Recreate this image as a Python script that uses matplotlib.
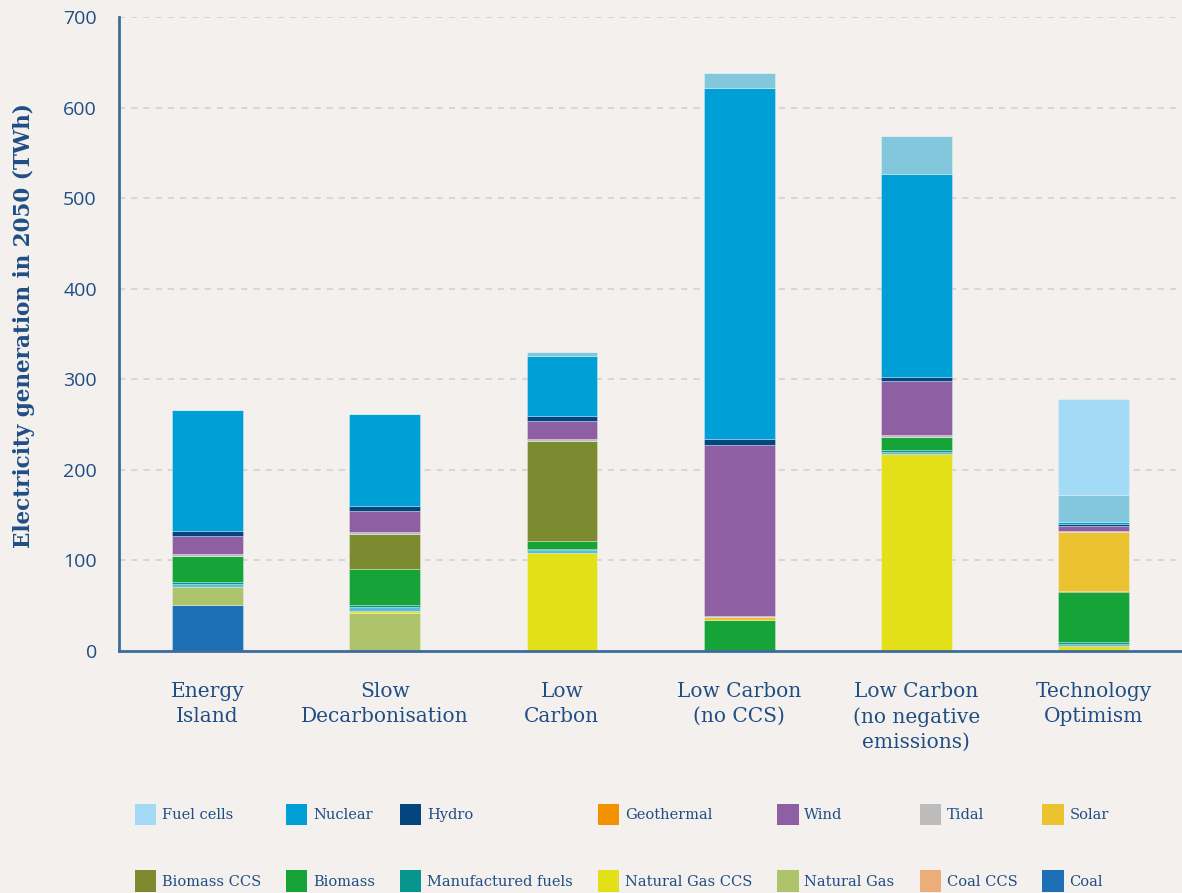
import numpy as np
import matplotlib
matplotlib.use("Agg")
import matplotlib.pyplot as plt

scenarios = ["Energy\nIsland", "Slow\nDecarbonisation", "Low\nCarbon",
             "Low Carbon\n(no CCS)", "Low Carbon\n(no negative\nemissions)",
             "Technology\nOptimism"]

# stacked from the bottom up, TWh in 2050
coal = [51, 0, 0, 0, 0, 0]
coal_ccs = [0, 0, 0, 0, 0, 0]
natural_gas = [20, 42, 0, 0, 0, 0]
natural_gas_ccs = [0, 2, 108.5, 0, 218, 6]
unlabelled_low = [3, 5, 3, 0, 2, 2]
manufactured_fuels = [2, 1.4, 1.1, 0, 2, 2]
biomass = [29, 39.6, 9.2, 34, 14.6, 55]
biomass_ccs = [0, 39, 110.2, 0, 0, 1.6]
solar = [0, 0, 0, 3, 0, 64.4]
tidal = [2.5, 2, 2, 2, 2.4, 2]
wind = [19, 23.6, 20, 188, 59.5, 5]
geothermal = [0, 0, 0, 0, 0, 0]
hydro = [6, 5.8, 5, 7, 4.5, 2]
nuclear = [133.5, 101.3, 67, 387.6, 224, 2.5]
unlabelled_high = [0, 0, 4, 16.4, 41.6, 29.5]
fuel_cells = [0, 0, 0, 0, 0, 106]

series = [
    ("Coal", coal, "#1d6fb6"),
    ("Coal CCS", coal_ccs, "#ebae78"),
    ("Natural Gas", natural_gas, "#adc36c"),
    ("Natural Gas CCS", natural_gas_ccs, "#e3e01a"),
    ("_unlabelled_low", unlabelled_low, "#5bbcd8"),
    ("Manufactured fuels", manufactured_fuels, "#07968d"),
    ("Biomass", biomass, "#16a338"),
    ("Biomass CCS", biomass_ccs, "#7c8a30"),
    ("Solar", solar, "#ebc22f"),
    ("Tidal", tidal, "#bcbcbc"),
    ("Wind", wind, "#8e60a3"),
    ("Geothermal", geothermal, "#f29200"),
    ("Hydro", hydro, "#05457e"),
    ("Nuclear", nuclear, "#009fd6"),
    ("_unlabelled_high", unlabelled_high, "#82c7db"),
    ("Fuel cells", fuel_cells, "#a3daf5"),
]

legend_rows = [
    ["Fuel cells", "Nuclear", "Hydro", "Geothermal", "Wind", "Tidal", "Solar"],
    ["Biomass CCS", "Biomass", "Manufactured fuels", "Natural Gas CCS",
     "Natural Gas", "Coal CCS", "Coal"],
]

bg = "#f3f0ed"
text_col = "#1f4e85"
axis_col = "#3d6c9c"

fig = plt.figure(figsize=(11.82, 8.93), dpi=100, facecolor=bg)
ax = fig.add_axes([0.1007, 0.271, 0.8993, 0.710])
ax.set_facecolor(bg)

x = np.arange(len(scenarios))
bottom = np.zeros(len(scenarios))
handles = {}
for name, vals, col in series:
    vals = np.array(vals, dtype=float)
    bars = ax.bar(x, vals, 0.4, bottom=bottom, color=col,
                  edgecolor=(1, 1, 1, 0.35), linewidth=0.6, label=name, zorder=3)
    handles[name] = bars
    bottom += vals

ax.set_xlim(-0.5, 5.5)
ax.set_ylim(0, 700)
ax.set_yticks(range(0, 701, 100))
ax.yaxis.grid(True, linestyle=(0, (4, 4)), color="#d0cdca", linewidth=1.1, zorder=0)
ax.set_axisbelow(True)

for s in ["top", "right"]:
    ax.spines[s].set_visible(False)
for s in ["left", "bottom"]:
    ax.spines[s].set_color(axis_col)
    ax.spines[s].set_linewidth(2)
    ax.spines[s].set_zorder(4)

ax.set_xticks(x)
ax.set_xticklabels(scenarios, fontfamily="DejaVu Serif", fontsize=14.5,
                   color=text_col, linespacing=1.4, va="top")
ax.tick_params(axis="x", length=0, pad=22.5)
ax.tick_params(axis="y", length=0, pad=16, labelsize=14, labelcolor=text_col)
for lbl in ax.get_yticklabels():
    lbl.set_fontfamily("Open Sans")

ax.set_ylabel("Electricity generation in 2050 (TWh)", fontfamily="DejaVu Serif",
              fontweight="bold", fontsize=15.5, color=text_col)
ax.yaxis.set_label_coords(-0.079, 0.513)

# legend filled column by column, so interleave the two rows
order = [name for pair in zip(*legend_rows) for name in pair]
leg = fig.legend([handles[n] for n in order], order, ncol=7,
                 loc="upper left", bbox_to_anchor=(0.114, 0.1),
                 frameon=False, handlelength=1.45, handleheight=1.9,
                 handletextpad=0.4, columnspacing=1.72, labelspacing=3.1,
                 borderaxespad=0, borderpad=0,
                 prop={"family": "DejaVu Serif", "size": 10.5})
for t in leg.get_texts():
    t.set_color(text_col)
for h in leg.legend_handles:
    h.set_edgecolor("none")

fig.savefig("out.png", dpi=100, facecolor=bg)
